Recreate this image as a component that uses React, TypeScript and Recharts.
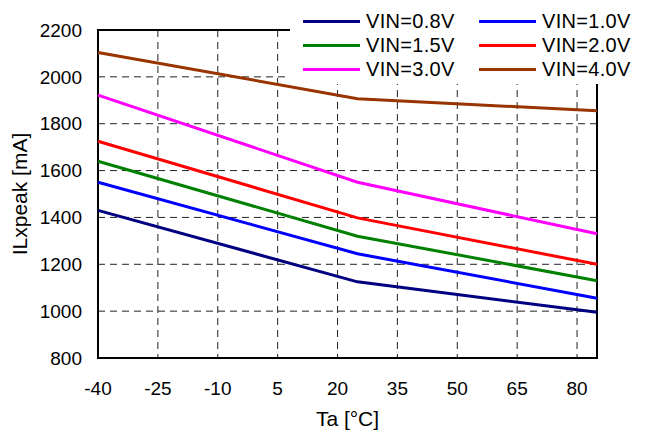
import {
  CartesianGrid,
  Line,
  LineChart,
  ReferenceArea,
  XAxis,
  YAxis,
} from 'recharts';

const temps = [-40, 25, 85];
const vin08 = [1430, 1125, 995];
const vin10 = [1550, 1245, 1055];
const vin15 = [1640, 1320, 1130];
const vin20 = [1725, 1398, 1200];
const vin30 = [1922, 1550, 1330];
const vin40 = [2104, 1907, 1855];

const xTicks = [-40, -25, -10, 5, 20, 35, 50, 65, 80];
const yTicks = [800, 1000, 1200, 1400, 1600, 1800, 2000, 2200];

const SERIES = [
  { key: 'v08', name: 'VIN=0.8V', color: '#000080', values: vin08 },
  { key: 'v10', name: 'VIN=1.0V', color: '#0000FF', values: vin10 },
  { key: 'v15', name: 'VIN=1.5V', color: '#008000', values: vin15 },
  { key: 'v20', name: 'VIN=2.0V', color: '#FF0000', values: vin20 },
  { key: 'v30', name: 'VIN=3.0V', color: '#FF00FF', values: vin30 },
  { key: 'v40', name: 'VIN=4.0V', color: '#993300', values: vin40 },
];

const data = temps.map((ta, i) => {
  const row: Record<string, number> = { ta };
  SERIES.forEach((s) => {
    row[s.key] = s.values[i];
  });
  return row;
});

const FONT = '"Liberation Sans", Arial, sans-serif';

// legend sits in a white box over the top-right corner of the plot
function ChartLegend() {
  return (
    <div
      style={{
        position: 'absolute',
        top: 0,
        left: 290,
        width: 355,
        height: 84,
        background: '#fff',
        boxSizing: 'border-box',
        display: 'grid',
        gridTemplateColumns: '176px 176px',
        gridAutoRows: '24px',
        paddingTop: 9,
        paddingLeft: 13,
        fontFamily: FONT,
        fontSize: 20,
        color: '#000',
      }}
    >
      {SERIES.map((s) => (
        <div key={s.key} style={{ display: 'flex', alignItems: 'center' }}>
          <span
            style={{
              display: 'inline-block',
              width: 57,
              height: 3,
              background: s.color,
              marginRight: 6,
            }}
          />
          <span style={{ letterSpacing: 0.3 }}>{s.name}</span>
        </div>
      ))}
    </div>
  );
}

export default function App() {
  return (
    <div
      style={{
        position: 'absolute',
        left: 0,
        top: 0,
        width: 645,
        height: 434,
        background: '#fff',
      }}
    >
      <LineChart
        width={645}
        height={434}
        data={data}
        margin={{ top: 30, right: 48, bottom: 0, left: 0 }}
      >
        <CartesianGrid
          stroke="#222"
          strokeDasharray="7 5"
          horizontalValues={[1000, 1200, 1400, 1600, 1800, 2000]}
          verticalValues={[-25, -10, 5, 20, 35, 50, 65, 80]}
        />
        <XAxis
          dataKey="ta"
          type="number"
          domain={[-40, 85]}
          ticks={xTicks}
          height={76}
          tickLine={false}
          axisLine={false}
          tickSize={12}
          tickMargin={12}
          tick={{ fill: '#000', fontSize: 19, fontFamily: FONT }}
          label={{
            value: 'Ta [°C]',
            position: 'insideBottom',
            offset: 8,
            fill: '#000',
            fontSize: 21,
            fontFamily: FONT,
          }}
        />
        <YAxis
          type="number"
          domain={[800, 2200]}
          ticks={yTicks}
          width={98}
          tickLine={false}
          axisLine={false}
          tickSize={8}
          tickMargin={8}
          tick={{ fill: '#000', fontSize: 19, fontFamily: FONT }}
          label={{
            value: 'ILxpeak [mA]',
            angle: -90,
            position: 'insideLeft',
            offset: 20,
            fill: '#000',
            fontSize: 21,
            fontFamily: FONT,
            style: { textAnchor: 'middle' },
          }}
        />
        <ReferenceArea
          x1={-40}
          x2={85}
          y1={800}
          y2={2200}
          fill="none"
          stroke="#000"
          strokeWidth={2}
        />
        {SERIES.map((s) => (
          <Line
            key={s.key}
            dataKey={s.key}
            name={s.name}
            stroke={s.color}
            strokeWidth={3}
            dot={false}
            isAnimationActive={false}
          />
        ))}
      </LineChart>
      <ChartLegend />
    </div>
  );
}
